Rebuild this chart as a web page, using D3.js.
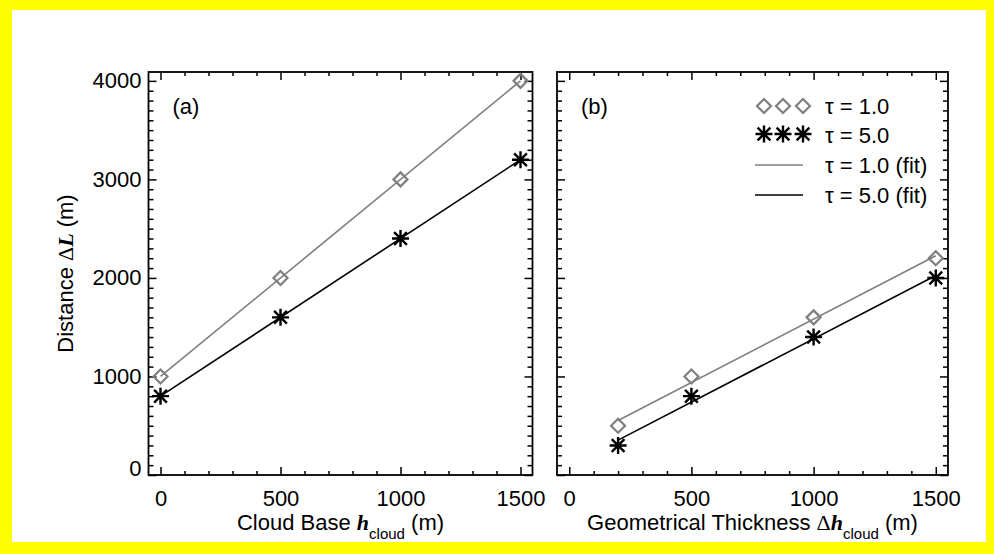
<!DOCTYPE html>
<html>
<head>
<meta charset="utf-8">
<style>
  body { margin: 0; background: #ffffff; }
  svg text { font-family: "Liberation Sans", Arial, sans-serif; font-size: 22px; fill: #000; }
  .axis path { display: none; }
  .axis line { stroke: #000; stroke-width: 1.5px; }
</style>
</head>
<body>
<div id="chart"></div>
<script src="https://d3js.org/d3.v7.min.js"></script>
<script>
// values
var xBase = [0, 500, 1000, 1500];
var tau1Base = [1000, 2000, 3000, 4000];
var tau5Base = [800, 1600, 2400, 3200];

var xThick = [200, 500, 1000, 1500];
var tau1Thick = [500, 1000, 1600, 2200];
var tau5Thick = [300, 800, 1400, 2000];

var xTicks = [0, 500, 1000, 1500];
var yTicks = [0, 1000, 2000, 3000, 4000];
var legendLabels = ["\u03c4 = 1.0", "\u03c4 = 5.0", "\u03c4 = 1.0 (fit)", "\u03c4 = 5.0 (fit)"];

var grey = "#7f7f7f";
var plotTop = 72, plotBottom = 475;

var svg = d3.select("#chart")
  .append("svg")
    .attr("width", 994)
    .attr("height", 554);

// yellow frame
svg.append("rect").attr("width", 994).attr("height", 554).style("fill", "#ffff00");
svg.append("rect").attr("x", 12).attr("y", 10).attr("width", 974).attr("height", 532).style("fill", "#fff");

// least squares line through the points
function fit(xs, ys) {
  var mx = d3.mean(xs), my = d3.mean(ys);
  var sxy = d3.sum(xs, function(v, i) { return (v - mx) * (ys[i] - my); });
  var sxx = d3.sum(xs, function(v) { return (v - mx) * (v - mx); });
  var b = sxy / sxx, a = my - b * mx;
  var x0 = d3.min(xs), x1 = d3.max(xs);
  return [[x0, a + b * x0], [x1, a + b * x1]];
}

function diamond(sel, r) {
  sel.append("path")
    .attr("d", "M0," + (-r) + "L" + r + ",0L0," + r + "L" + (-r) + ",0Z")
    .style("fill", "none").style("stroke", grey).style("stroke-width", 2.2);
}
function asterisk(sel, r) {
  var d = r * 0.75;
  sel.append("path")
    .attr("d", "M" + (-r) + ",0H" + r + "M0," + (-r) + "V" + r +
               "M" + (-d) + "," + (-d) + "L" + d + "," + d +
               "M" + (-d) + "," + d + "L" + d + "," + (-d))
    .style("fill", "none").style("stroke", "#000").style("stroke-width", 2.4);
}

function drawPanel(p) {
  var x = d3.scaleLinear().domain([-50, 1550]).range([p.left, p.right]);
  var y = d3.scaleLinear().domain([0, 4090]).range([plotBottom, plotTop]);
  var g = svg.append("g");

  var xMinor = d3.range(0, 1550, 100).filter(function(v) { return v % 500 !== 0; });
  var yMinor = d3.range(100, 4090, 100).filter(function(v) { return v % 1000 !== 0; });

  // minor ticks on all four sides
  g.append("g").attr("class", "axis").attr("transform", "translate(0," + plotBottom + ")")
    .call(d3.axisBottom(x).tickValues(xMinor).tickSize(-4).tickFormat(""));
  g.append("g").attr("class", "axis").attr("transform", "translate(0," + plotTop + ")")
    .call(d3.axisTop(x).tickValues(xMinor).tickSize(-4).tickFormat(""));
  g.append("g").attr("class", "axis").attr("transform", "translate(" + p.left + ",0)")
    .call(d3.axisLeft(y).tickValues(yMinor).tickSize(-5).tickFormat(""));
  g.append("g").attr("class", "axis").attr("transform", "translate(" + p.right + ",0)")
    .call(d3.axisRight(y).tickValues(yMinor).tickSize(-5).tickFormat(""));

  // major ticks
  g.append("g").attr("class", "axis").attr("transform", "translate(0," + plotBottom + ")")
    .call(d3.axisBottom(x).tickValues(xTicks).tickSize(-8).tickPadding(15).tickFormat(d3.format("d")))
    .selectAll("text").style("font-size", "22px").style("font-family", null);
  g.append("g").attr("class", "axis").attr("transform", "translate(0," + plotTop + ")")
    .call(d3.axisTop(x).tickValues(xTicks).tickSize(-8).tickFormat(""));
  var yl = g.append("g").attr("class", "axis").attr("transform", "translate(" + p.left + ",0)")
    .call(d3.axisLeft(y).tickValues(yTicks).tickSize(-8).tickPadding(7)
      .tickFormat(p.yLabels ? d3.format("d") : ""));
  yl.selectAll("text").style("font-size", "22px").style("font-family", null)
    .attr("dy", function(d) { return d === 0 ? "0.0em" : "0.32em"; });
  g.append("g").attr("class", "axis").attr("transform", "translate(" + p.right + ",0)")
    .call(d3.axisRight(y).tickValues(yTicks).tickSize(-8).tickFormat(""));
  g.selectAll(".axis text").attr("fill", "#000");

  // frame
  g.append("rect")
    .attr("x", p.left).attr("y", plotTop)
    .attr("width", p.right - p.left).attr("height", plotBottom - plotTop)
    .style("fill", "none").style("stroke", "#000").style("stroke-width", 1.8);

  // fit lines
  var line = d3.line().x(function(d) { return x(d[0]); }).y(function(d) { return y(d[1]); });
  g.append("path").attr("d", line(fit(p.xs, p.t1)))
    .style("fill", "none").style("stroke", grey).style("stroke-width", 1.6);
  g.append("path").attr("d", line(fit(p.xs, p.t5)))
    .style("fill", "none").style("stroke", "#000").style("stroke-width", 1.6);

  // markers
  p.xs.forEach(function(v, i) {
    diamond(g.append("g").attr("transform", "translate(" + x(v) + "," + y(p.t1[i]) + ")"), 7);
    asterisk(g.append("g").attr("transform", "translate(" + x(v) + "," + y(p.t5[i]) + ")"), 8.5);
  });

  // panel tag
  g.append("text").attr("x", p.left + 24).attr("y", 114).text(p.tag);

  // x title
  var xt = g.append("text")
    .attr("x", (p.left + p.right) / 2).attr("y", 530)
    .attr("text-anchor", "middle");
  xt.append("tspan").text(p.xTitle);
  if (p.delta) {
    xt.append("tspan").style("font-family", "'Liberation Serif', 'Times New Roman', serif").text("\u0394");
  }
  xt.append("tspan").style("font-family", "'Liberation Serif', 'Times New Roman', serif")
    .style("font-weight", "bold").style("font-style", "italic").text("h");
  xt.append("tspan").attr("dy", 9).style("font-size", "15px").text("cloud");
  xt.append("tspan").attr("dy", -9).text(" (m)");
}

drawPanel({left: 148.5, right: 532.5, xs: xBase, t1: tau1Base, t5: tau5Base,
           tag: "(a)", xTitle: "Cloud Base ", delta: false, yLabels: true});
drawPanel({left: 557, right: 948, xs: xThick, t1: tau1Thick, t5: tau5Thick,
           tag: "(b)", xTitle: "Geometrical Thickness ", delta: true, yLabels: false});

// y title
var ytitle = svg.append("text")
  .attr("transform", "translate(73," + ((plotTop + plotBottom) / 2) + ") rotate(-90)")
  .attr("text-anchor", "middle");
ytitle.append("tspan").text("Distance ");
ytitle.append("tspan").style("font-family", "'Liberation Serif', 'Times New Roman', serif").text("\u0394");
ytitle.append("tspan").style("font-family", "'Liberation Serif', 'Times New Roman', serif")
  .style("font-weight", "bold").style("font-style", "italic").text("L");
ytitle.append("tspan").text(" (m)");

// legend
var legendY = [106, 135, 165, 195];
var lg = svg.append("g");
[764, 783, 803].forEach(function(cx) {
  diamond(lg.append("g").attr("transform", "translate(" + cx + "," + legendY[0] + ")"), 7);
  asterisk(lg.append("g").attr("transform", "translate(" + cx + "," + (legendY[1] - 1) + ")"), 8.5);
});
lg.append("line").attr("x1", 755).attr("x2", 803).attr("y1", legendY[2]).attr("y2", legendY[2])
  .style("stroke", grey).style("stroke-width", 1.6);
lg.append("line").attr("x1", 755).attr("x2", 803).attr("y1", legendY[3]).attr("y2", legendY[3])
  .style("stroke", "#000").style("stroke-width", 1.6);
lg.selectAll("text.leg")
  .data(legendLabels)
  .enter()
  .append("text")
    .attr("class", "leg")
    .attr("x", 825)
    .attr("y", function(d, i) { return legendY[i] + 8; })
    .text(function(d) { return d; });
</script>
</body>
</html>
